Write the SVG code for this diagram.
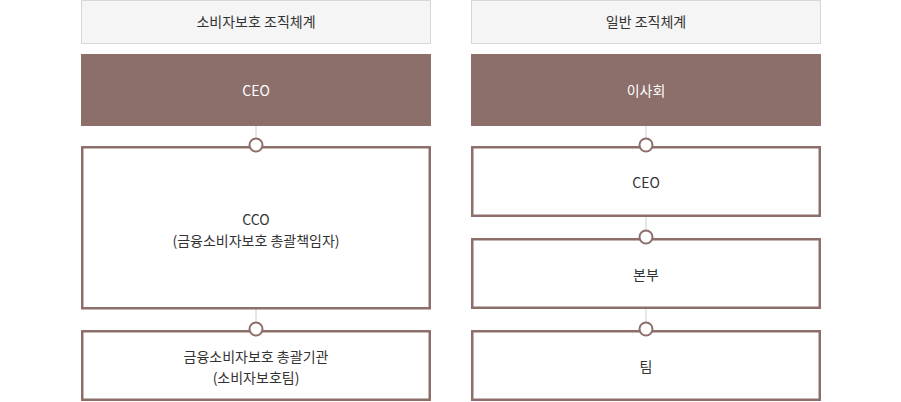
<svg xmlns="http://www.w3.org/2000/svg" width="901" height="402" viewBox="0 0 901 402">
<style>
text{font-family:"Noto Sans CJK KR","Noto Sans",sans-serif;font-size:14px;fill:#333;text-anchor:middle}
.hdr{fill:#f5f5f5;stroke:#d7d7d7;stroke-width:1}
.dark{fill:#8c6e6b}
.wt{fill:#fff}
.box{fill:#fff;stroke:#8c6e6b;stroke-width:2.5}
.dot{fill:#fff;stroke:#8c6e6b;stroke-width:2}
.ln{stroke:#cccccc;stroke-width:1}
</style>
<rect width="901" height="402" fill="#fff"/>
<g id="connectors">
<line class="ln" x1="256" y1="126" x2="256" y2="145"/>
<line class="ln" x1="256" y1="309" x2="256" y2="329"/>
<line class="ln" x1="646" y1="126" x2="646" y2="145"/>
<line class="ln" x1="646" y1="217" x2="646" y2="237"/>
<line class="ln" x1="646" y1="309" x2="646" y2="329"/>
</g>
<g id="left-header"><rect class="hdr" x="81.5" y="0.5" width="349" height="43"/><text x="256" y="27">소비자보호 조직체계</text></g>
<g id="left-ceo"><rect class="dark" x="81" y="54" width="350" height="72"/><text class="wt" x="256" y="96">CEO</text></g>
<g id="left-cco"><rect class="box" x="82.25" y="147.25" width="347.5" height="161"/><text x="256" y="225">CCO</text><text x="256" y="246">(금융소비자보호 총괄책임자)</text></g>
<g id="left-team"><rect class="box" x="82.25" y="331.25" width="347.5" height="68.5"/><text x="256" y="362">금융소비자보호 총괄기관</text><text x="256" y="383">(소비자보호팀)</text></g>
<g id="right-header"><rect class="hdr" x="471.5" y="0.5" width="349" height="43"/><text x="646" y="27">일반 조직체계</text></g>
<g id="right-board"><rect class="dark" x="471" y="54" width="350" height="72"/><text class="wt" x="646" y="96">이사회</text></g>
<g id="right-ceo"><rect class="box" x="472.25" y="147.25" width="347.5" height="68.5"/><text x="646" y="188">CEO</text></g>
<g id="right-hq"><rect class="box" x="472.25" y="239.25" width="347.5" height="68.5"/><text x="646" y="280">본부</text></g>
<g id="right-team"><rect class="box" x="472.25" y="331.25" width="347.5" height="68.5"/><text x="646" y="372">팀</text></g>
<g id="dots">
<circle class="dot" cx="256" cy="145" r="6.5"/>
<circle class="dot" cx="256" cy="329" r="6.5"/>
<circle class="dot" cx="646" cy="145" r="6.5"/>
<circle class="dot" cx="646" cy="237" r="6.5"/>
<circle class="dot" cx="646" cy="329" r="6.5"/>
</g>
</svg>
